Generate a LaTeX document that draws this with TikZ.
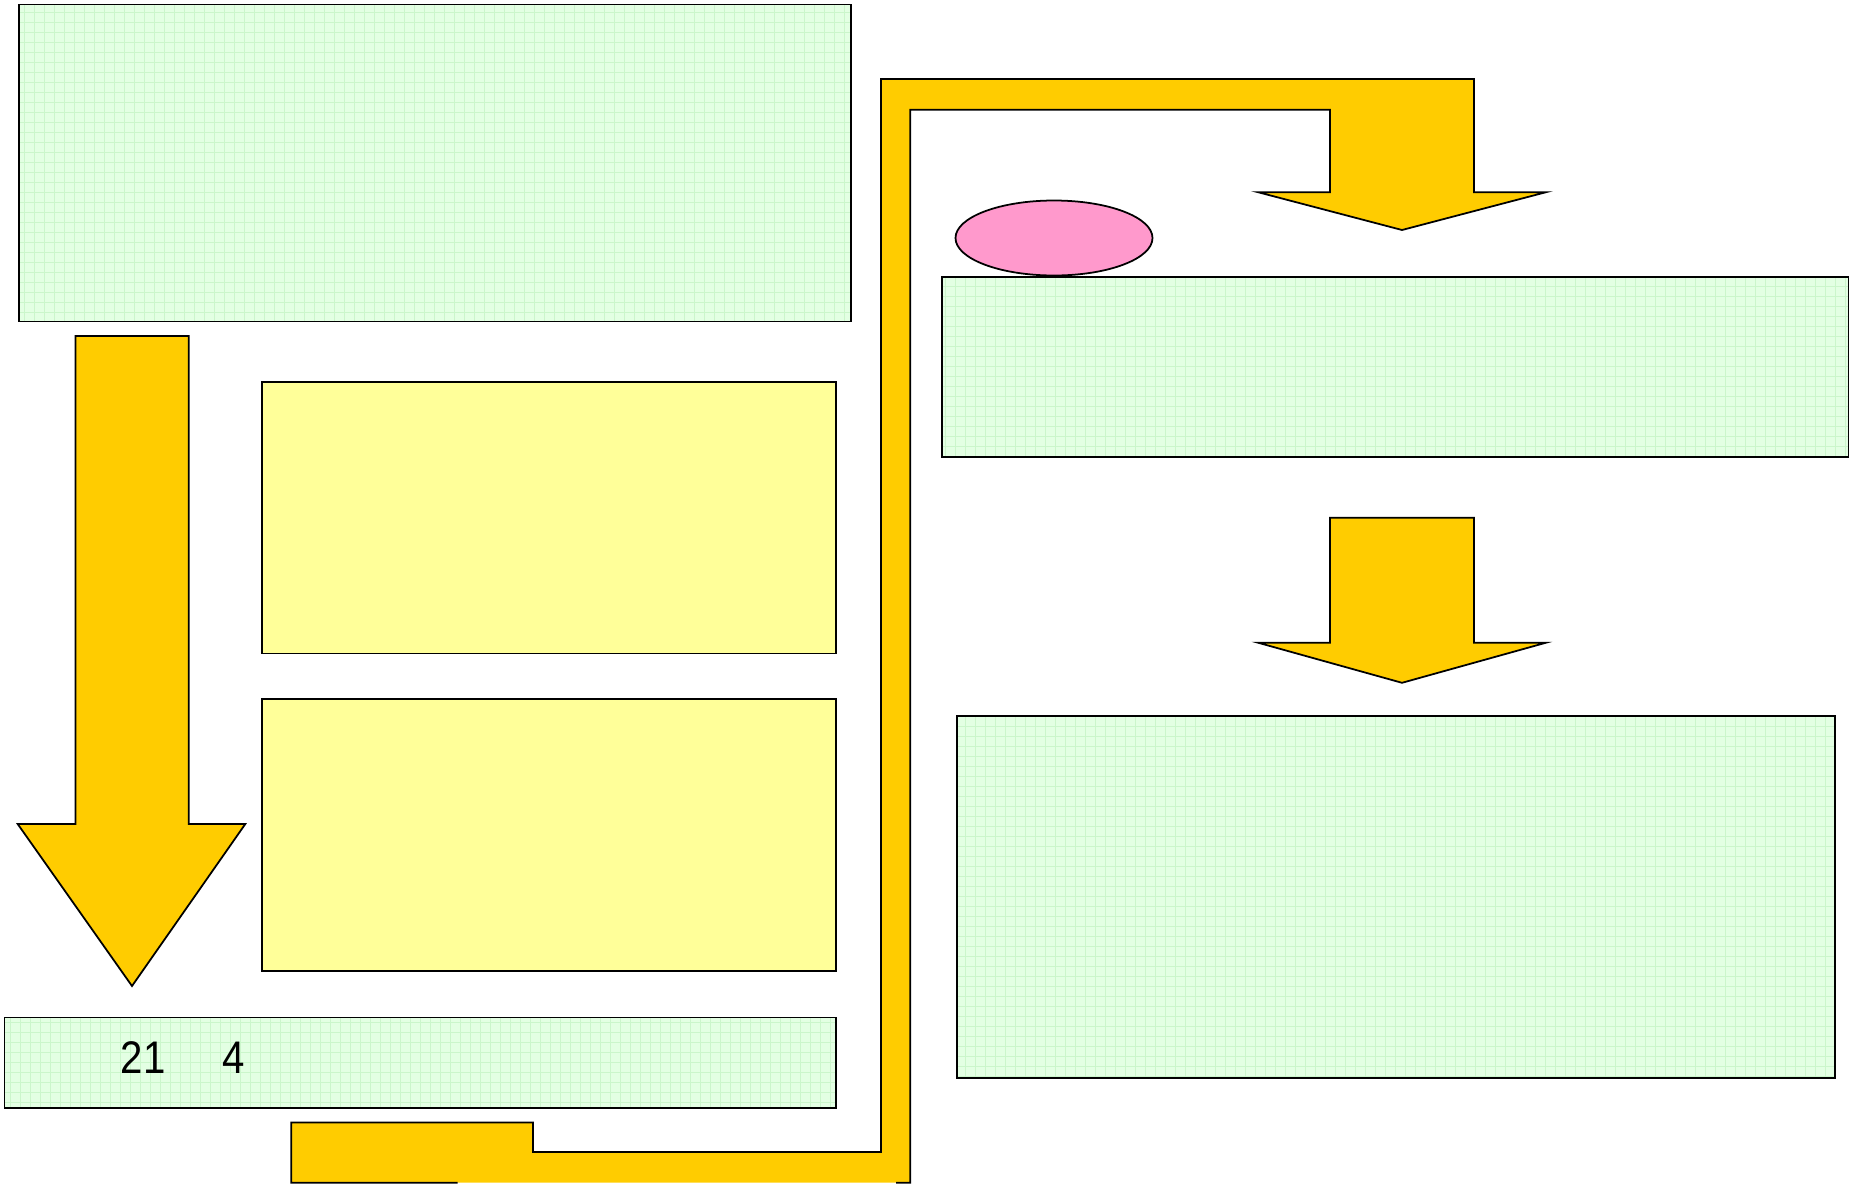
\documentclass[tikz,border=0pt]{standalone}
\usepackage{fontspec}
\setmainfont{Liberation Sans}
\newfontfamily\narrowsans[FakeStretch=0.88]{Liberation Sans}
\usepackage{xcolor}
\usepackage{tikz}
\usetikzlibrary{shapes.geometric, positioning}

\definecolor{gridgreen}{HTML}{E3FFE3}
\definecolor{gridline}{HTML}{CBF6CB}
\definecolor{paleyellow}{HTML}{FFFF99}
\definecolor{arrowgold}{HTML}{FFCC00}
\definecolor{blobpink}{HTML}{FF99CC}

\begin{document}
\begin{tikzpicture}[x=1mm, y=-1mm, node distance=4.4mm]

% Defined styles
\tikzstyle{gridbox} = [rectangle, anchor=north west, inner sep=0pt, draw=black, line width=0.5pt, fill=gridgreen, path picture={\draw[gridline, step=1mm, line width=0.3pt] (path picture bounding box.south west) grid (path picture bounding box.north east);}]
\tikzstyle{notebox} = [rectangle, inner sep=0pt, minimum width=57.4mm, minimum height=27.15mm, draw=black, line width=0.5pt, fill=paleyellow]
\tikzstyle{blockarrow} = [draw=black, line width=0.5pt, fill=arrowgold, line join=miter]

\useasboundingbox (0,0) rectangle (184.9,118.4);

% --- Left column ---
\node (topbox) [gridbox, minimum width=83.2mm, minimum height=31.7mm] at (1.8,0.35) {};
\node (noteone) [notebox, anchor=north west] at (26.1,38.1) {};
\node (notetwo) [notebox, below=of noteone] {};
\node (sumbox) [gridbox, minimum width=83.15mm, minimum height=9.05mm] at (0.35,101.65) {};
\node (sumtext) [anchor=base west, inner sep=0pt, font=\narrowsans\fontsize{13}{15}\selectfont] at (12.0,107.3) {21\hspace{1.25em}4};

% --- Right column ---
\node (stepone) [gridbox, minimum width=90.7mm, minimum height=18.0mm] at (94.1,27.6) {};
\node (tag) [ellipse, draw=black, line width=0.5pt, fill=blobpink, inner sep=0pt, minimum width=19.7mm, minimum height=7.5mm] at (105.4,23.8) {};
\node (steptwo) [gridbox, minimum width=87.8mm, minimum height=36.2mm] at (95.6,71.5) {};

% --- Block arrows ---
\draw [blockarrow] (7.55,33.6) -- (18.87,33.6) -- (18.87,82.4) -- (24.53,82.4) -- (13.2,98.6) -- (1.77,82.4) -- (7.55,82.4) -- cycle;
\draw [blockarrow] (133.0,51.77) -- (147.4,51.77) -- (147.4,64.27) -- (154.6,64.27) -- (140.2,68.28) -- (125.8,64.27) -- (133.0,64.27) -- cycle;

% Return path from the bottom up over the top
\fill [arrowgold] (29.13,118.27) -- (29.13,112.26) -- (53.3,112.26) -- (53.3,115.2) -- (88.09,115.2) -- (88.09,7.9) -- (147.4,7.9) -- (147.4,19.22) -- (154.6,19.22) -- (140.2,23.0) -- (125.8,19.22) -- (133.0,19.22) -- (133.0,10.97) -- (91.03,10.97) -- (91.03,118.27) -- cycle;
\draw [line width=0.5pt, line join=miter] (45.75,118.27) -- (29.13,118.27) -- (29.13,112.26) -- (53.3,112.26) -- (53.3,115.2) -- (88.09,115.2) -- (88.09,7.9) -- (147.4,7.9) -- (147.4,19.22) -- (154.6,19.22) -- (140.2,23.0) -- (125.8,19.22) -- (133.0,19.22) -- (133.0,10.97) -- (91.03,10.97) -- (91.03,118.27) -- (89.6,118.27);

\end{tikzpicture}
\end{document}
